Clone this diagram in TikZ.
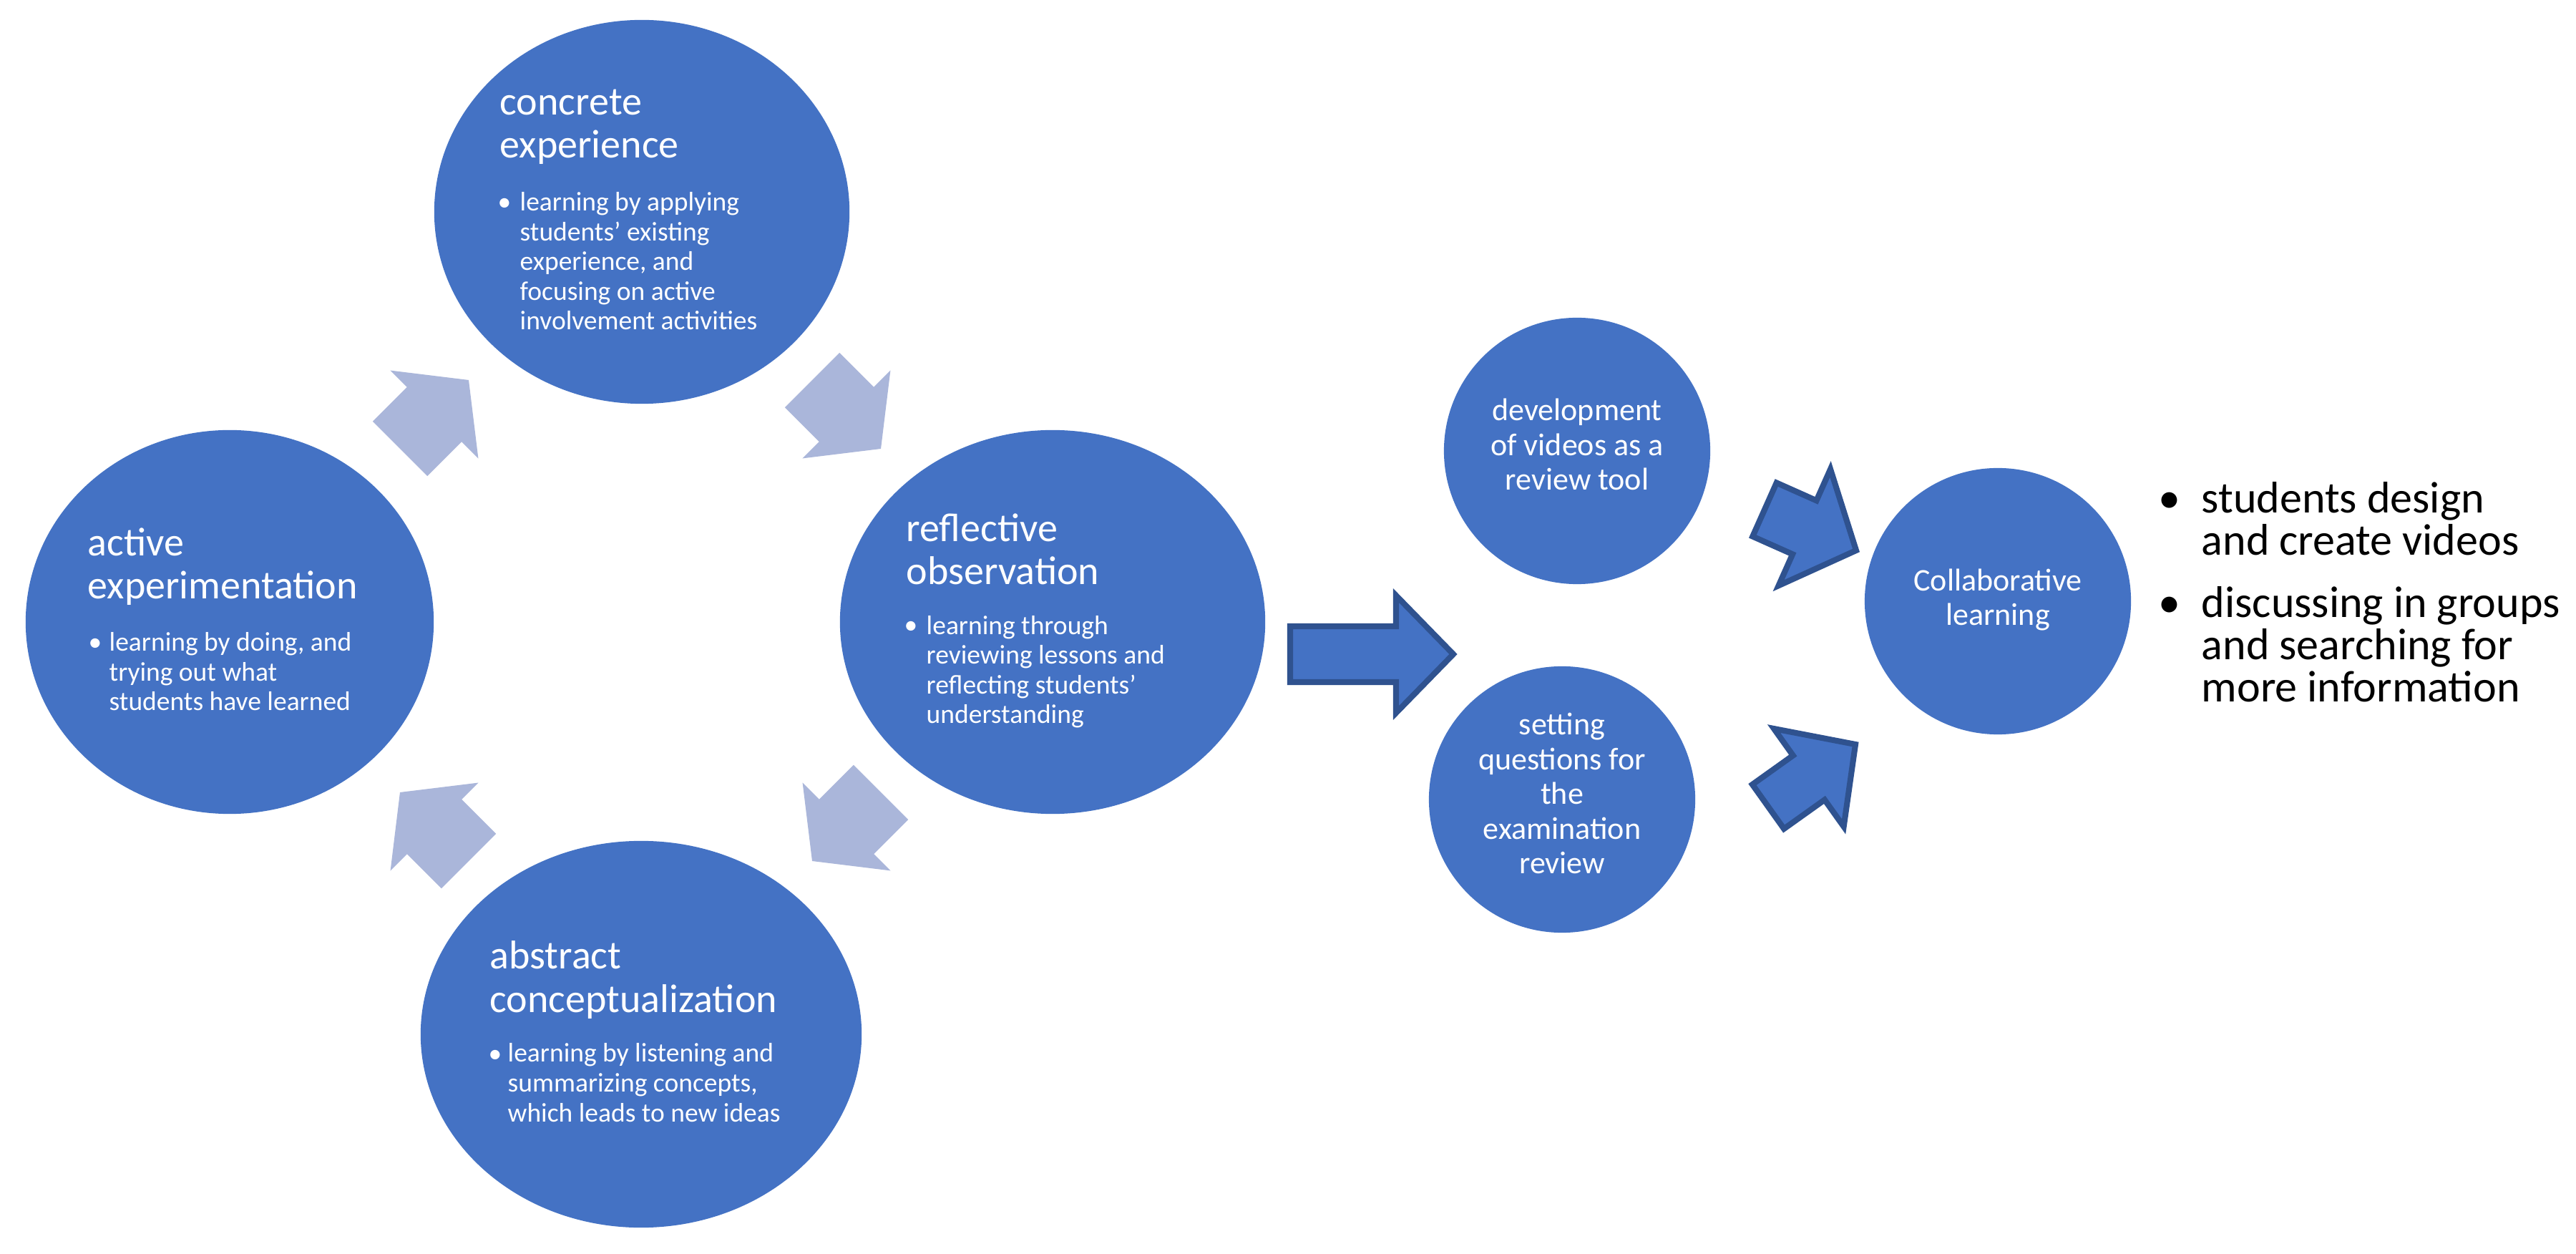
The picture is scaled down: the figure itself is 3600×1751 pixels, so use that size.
\documentclass[tikz,border=0pt]{standalone}
\usepackage{fontspec}
\setmainfont{Carlito}
\usetikzlibrary{calc,shapes.geometric}
\definecolor{cblue}{RGB}{68,114,196}
\definecolor{lblue}{RGB}{170,182,218}
\definecolor{dblue}{RGB}{47,82,143}
\newcommand\blockarrow[5]{%
  \coordinate (#1H) at ($(#1P)!#5!(#1T)$);
  \path[#2] ($(#1T)!#3!90:(#1P)$) -- ($(#1H)!#3!90:(#1P)$) -- ($(#1H)!#4!90:(#1P)$) -- (#1P)
    -- ($(#1H)!#4!-90:(#1P)$) -- ($(#1H)!#3!-90:(#1P)$) -- ($(#1T)!#3!-90:(#1P)$) -- cycle;}
\tikzset{
 bigc/.style={ellipse, fill=cblue, inner sep=0pt},
 smallc/.style={circle, fill=cblue, inner sep=0pt, minimum size=3.72cm},
 ttl/.style={anchor=base west, inner sep=0pt, align=left, text=white, font=\fontsize{15.93pt}{17.07pt}\selectfont},
 bdy/.style={anchor=base west, inner sep=0pt, align=left, text=white, font=\fontsize{10.67pt}{11.81pt}\selectfont},
 bdot/.style={anchor=base, inner sep=0pt, text=white, font=\fontsize{10.67pt}{11.81pt}\selectfont},
 stxt/.style={anchor=base, inner sep=0pt, align=center, text=white, font=\fontsize{12.52pt}{13.8pt}\selectfont},
 rtxt/.style={anchor=base west, inner sep=0pt, align=left, text=black, font=\fontsize{17.64pt}{16.79pt}\selectfont},
 rdot/.style={anchor=base, inner sep=0pt, text=black, font=\fontsize{17.64pt}{16.79pt}\selectfont},
 cyc/.style={fill=lblue},
 blk/.style={fill=cblue, draw=dblue, line width=2.3pt, line join=miter},
}
\begin{document}
\begin{tikzpicture}[x=0.01cm, y=0.01cm]
\useasboundingbox (0,0) rectangle (3600,1751);
\fill[white] (0,0) rectangle (3600,1751);
% cycle circles
\node[bigc, minimum width=5.80cm, minimum height=5.36cm] (conc) at (897,1455) {};
\node[bigc, minimum width=5.70cm, minimum height=5.36cm] (act) at (321,882) {};
\node[bigc, minimum width=5.94cm, minimum height=5.36cm] (refl) at (1471,882) {};
\node[bigc, minimum width=6.16cm, minimum height=5.40cm] (abst) at (896,306) {};
% small circles
\node[smallc] (dev) at (2204,1121) {};
\node[smallc] (set) at (2183,634) {};
\node[smallc] (coll) at (2792,911) {};
% texts in cycle circles (base anchor = last line)
\node[ttl] (concT) at (698,1530) {concrete\\experience};
\node[bdot] (concB) at (705,1456) {•};
\node[bdy] (concX) at (726,1290) {learning by applying\\students’ existing\\experience, and\\focusing on active\\involvement activities};
\node[ttl] (actT) at (122,914) {active\\experimentation};
\node[bdot] (actB) at (133,841) {•};
\node[bdy] (actX) at (152,758) {learning by doing, and\\trying out what\\students have learned};
\node[ttl] (reflT) at (1266,934) {reflective\\observation};
\node[bdot] (reflB) at (1273,865) {•};
\node[bdy] (reflX) at (1294,740) {learning through\\reviewing lessons and\\reflecting students’\\understanding};
\node[ttl] (abstT) at (684,337) {abstract\\conceptualization};
\node[bdot] (abstB) at (692,267) {•};
\node[bdy] (abstX) at (709,184) {learning by listening and\\summarizing concepts,\\which leads to new ideas};
% texts in small circles
\node[stxt] (devT) at (2204,1066) {development\\of videos as a\\review tool};
\node[stxt] (setT) at (2183,530) {setting\\questions for\\the\\examination\\review};
\node[stxt] (collT) at (2792,877) {Collaborative\\learning};
% right bullets
\node[rdot] (r1d) at (3032,1034) {•};
\node[rtxt] (r1) at (3076,975) {students design\\and create videos};
\node[rdot] (r2d) at (3032,888) {•};
\node[rtxt] (r2) at (3076,770) {discussing in groups\\and searching for\\more information};
% cycle arrows
\coordinate (a1T) at (559,1124); \coordinate (a1P) at (655,1220);
\coordinate (a2T) at (1135,1220); \coordinate (a2P) at (1231,1124);
\coordinate (a3T) at (1231,644); \coordinate (a3P) at (1135,548);
\coordinate (a4T) at (655,548); \coordinate (a4P) at (559,644);
\blockarrow{a1}{cyc}{0.54cm}{0.87cm}{0.68cm}
\blockarrow{a2}{cyc}{0.54cm}{0.87cm}{0.68cm}
\blockarrow{a3}{cyc}{0.54cm}{0.87cm}{0.68cm}
\blockarrow{a4}{cyc}{0.54cm}{0.87cm}{0.68cm}
% block arrows
\coordinate (b1T) at (1803,837); \coordinate (b1P) at (2031,837);
\coordinate (b2T) at (2466,1039); \coordinate (b2P) at (2594,982);
\coordinate (b3T) at (2471,624); \coordinate (b3P) at (2593,711);
\blockarrow{b1}{blk}{0.39cm}{0.82cm}{0.80cm}
\blockarrow{b2}{blk}{0.41cm}{0.89cm}{0.79cm}
\blockarrow{b3}{blk}{0.38cm}{0.84cm}{0.80cm}
\end{tikzpicture}
\end{document}
